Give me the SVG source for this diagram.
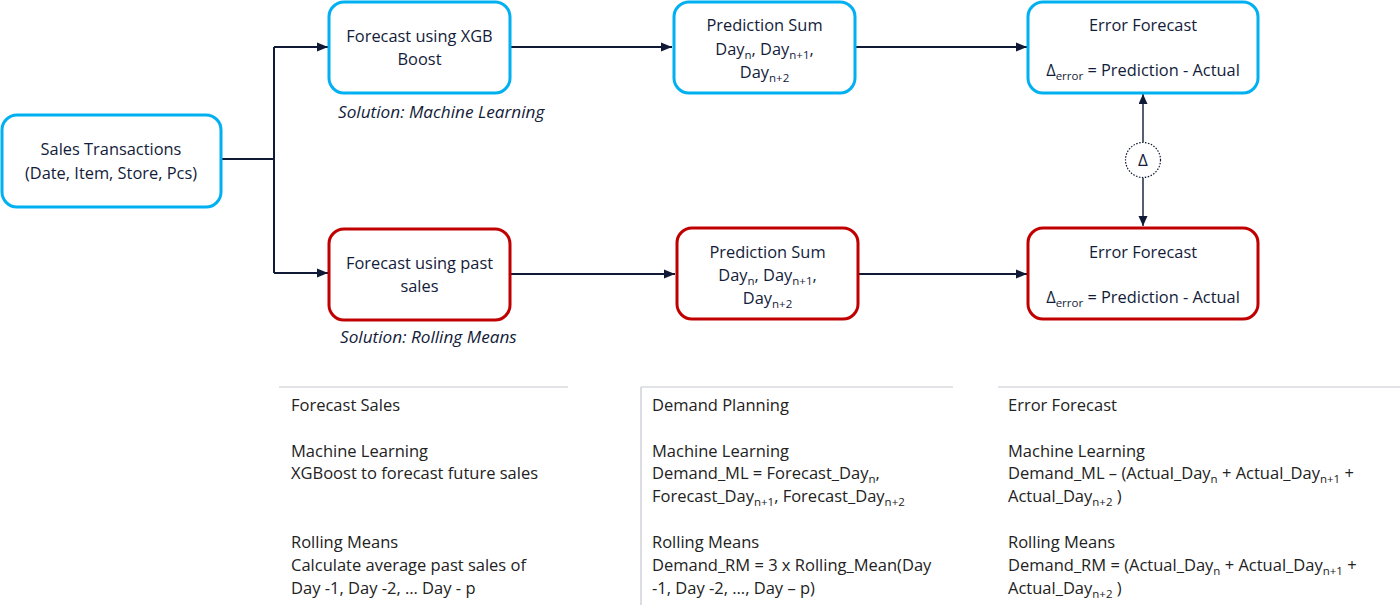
<svg xmlns="http://www.w3.org/2000/svg" width="1400" height="610" viewBox="0 0 1400 610">
<style>
.box{fill:#fff;stroke-width:3}
.blue{stroke:#00b0f0}
.red{stroke:#c00000}
.t{font-family:"Open Sans","Liberation Sans",sans-serif;font-size:16.4px;fill:#131c3a;text-anchor:middle}
.sol{font-family:"Open Sans","Liberation Sans",sans-serif;font-size:17.2px;fill:#131c3a;font-style:italic}
.p{font-family:"Open Sans","Liberation Sans",sans-serif;font-size:16.5px;fill:#222}
.s{font-size:11.5px}
.c{stroke:#101a36;stroke-width:2;fill:none}
.rule{stroke:#c3c7cf;stroke-width:1.2;fill:none}
</style>
<defs>
<marker id="ah" markerUnits="userSpaceOnUse" markerWidth="12" markerHeight="10" refX="11" refY="5" orient="auto">
<path d="M0,0.5 L11,5 L0,9.5 Z" fill="#101a36"/>
</marker>
<marker id="ahs" markerUnits="userSpaceOnUse" markerWidth="10" markerHeight="10" refX="10" refY="4.5" orient="auto">
<path d="M0,0 L10,4.5 L0,9 Z" fill="#101a36"/>
</marker>
</defs>

<g id="connectors">
<path class="c" d="M221,159 H274"/>
<path class="c" d="M274,47 V273"/>
<path class="c" d="M274,47 H328" marker-end="url(#ah)"/>
<path class="c" d="M274,273 H328" marker-end="url(#ah)"/>
<path class="c" d="M510,47 H672" marker-end="url(#ah)"/>
<path class="c" d="M510,274 H675" marker-end="url(#ah)"/>
<path class="c" d="M855,47 H1027" marker-end="url(#ah)"/>
<path class="c" d="M858,274 H1027" marker-end="url(#ah)"/>
<path d="M1143,142 V94" stroke="#101a36" stroke-width="1.4" fill="none" marker-end="url(#ahs)"/>
<path d="M1143,178 V226" stroke="#101a36" stroke-width="1.4" fill="none" marker-end="url(#ahs)"/>
</g>

<g id="sales">
<rect class="box blue" x="2" y="115" width="219" height="92" rx="15"/>
<text class="t" x="111" y="155">Sales Transactions</text>
<text class="t" x="111" y="179">(Date, Item, Store, Pcs)</text>
</g>

<g id="xgb">
<rect class="box blue" x="329" y="2" width="181" height="91" rx="15"/>
<text class="t" x="419.5" y="42">Forecast using XGB</text>
<text class="t" x="419.5" y="65">Boost</text>
</g>
<text class="sol" x="338" y="118">Solution: Machine Learning</text>

<g id="past">
<rect class="box red" x="329" y="229" width="181" height="91" rx="15"/>
<text class="t" x="419.5" y="269">Forecast using past</text>
<text class="t" x="419.5" y="292">sales</text>
</g>
<text class="sol" x="340" y="343">Solution: Rolling Means</text>

<g id="predsum-ml">
<rect class="box blue" x="674" y="2" width="181" height="91" rx="15"/>
<text class="t" x="764.5" y="31">Prediction Sum</text>
<text class="t" x="764.5" y="55">Day<tspan class="s" dy="4">n</tspan><tspan dy="-4">, Day</tspan><tspan class="s" dy="4">n+1</tspan><tspan dy="-4">,</tspan></text>
<text class="t" x="764.5" y="78">Day<tspan class="s" dy="4">n+2</tspan></text>
</g>

<g id="predsum-rm">
<rect class="box red" x="677" y="228" width="181" height="91" rx="15"/>
<text class="t" x="767.5" y="258">Prediction Sum</text>
<text class="t" x="767.5" y="281">Day<tspan class="s" dy="4">n</tspan><tspan dy="-4">, Day</tspan><tspan class="s" dy="4">n+1</tspan><tspan dy="-4">,</tspan></text>
<text class="t" x="767.5" y="304">Day<tspan class="s" dy="4">n+2</tspan></text>
</g>

<g id="error-ml">
<rect class="box blue" x="1028" y="2" width="230" height="91" rx="15"/>
<text class="t" x="1143" y="31">Error Forecast</text>
<text class="t" x="1143" y="76">Δ<tspan class="s" dy="4">error</tspan><tspan dy="-4"> = Prediction - Actual</tspan></text>
</g>

<g id="error-rm">
<rect class="box red" x="1028" y="228" width="230" height="91" rx="15"/>
<text class="t" x="1143" y="258">Error Forecast</text>
<text class="t" x="1143" y="303">Δ<tspan class="s" dy="4">error</tspan><tspan dy="-4"> = Prediction - Actual</tspan></text>
</g>

<g id="delta">
<circle cx="1143" cy="160" r="17.5" fill="#fff" stroke="#101a36" stroke-width="1.2" stroke-dasharray="1.5 1.5"/>
<text class="t" x="1143" y="166" style="font-size:17px">Δ</text>
</g>

<g id="notes">
<path class="rule" d="M279,387 H568"/>
<path class="rule" d="M641,387 H953 M641,387 V605"/>
<path class="rule" d="M998,387 H1400"/>

<text class="p" x="291" y="411">Forecast Sales</text>
<text class="p" x="291" y="457">Machine Learning</text>
<text class="p" x="291" y="479">XGBoost to forecast future sales</text>
<text class="p" x="291" y="548">Rolling Means</text>
<text class="p" x="291" y="571">Calculate average past sales of</text>
<text class="p" x="291" y="594">Day -1, Day -2, … Day - p</text>

<text class="p" x="652" y="411">Demand Planning</text>
<text class="p" x="652" y="457">Machine Learning</text>
<text class="p" x="652" y="479">Demand_ML = Forecast_Day<tspan class="s" dy="4">n</tspan><tspan dy="-4">,</tspan></text>
<text class="p" x="652" y="502">Forecast_Day<tspan class="s" dy="4">n+1</tspan><tspan dy="-4">, Forecast_Day</tspan><tspan class="s" dy="4">n+2</tspan></text>
<text class="p" x="652" y="548">Rolling Means</text>
<text class="p" x="652" y="571">Demand_RM = 3 x Rolling_Mean(Day</text>
<text class="p" x="652" y="594">-1, Day -2, …, Day – p)</text>

<text class="p" x="1008" y="411">Error Forecast</text>
<text class="p" x="1008" y="457">Machine Learning</text>
<text class="p" x="1008" y="479">Demand_ML – (Actual_Day<tspan class="s" dy="4">n</tspan><tspan dy="-4"> + Actual_Day</tspan><tspan class="s" dy="4">n+1</tspan><tspan dy="-4"> +</tspan></text>
<text class="p" x="1008" y="502">Actual_Day<tspan class="s" dy="4">n+2</tspan><tspan dy="-4"> )</tspan></text>
<text class="p" x="1008" y="548">Rolling Means</text>
<text class="p" x="1008" y="571">Demand_RM = (Actual_Day<tspan class="s" dy="4">n</tspan><tspan dy="-4"> + Actual_Day</tspan><tspan class="s" dy="4">n+1</tspan><tspan dy="-4"> +</tspan></text>
<text class="p" x="1008" y="594">Actual_Day<tspan class="s" dy="4">n+2</tspan><tspan dy="-4"> )</tspan></text>
</g>
</svg>
